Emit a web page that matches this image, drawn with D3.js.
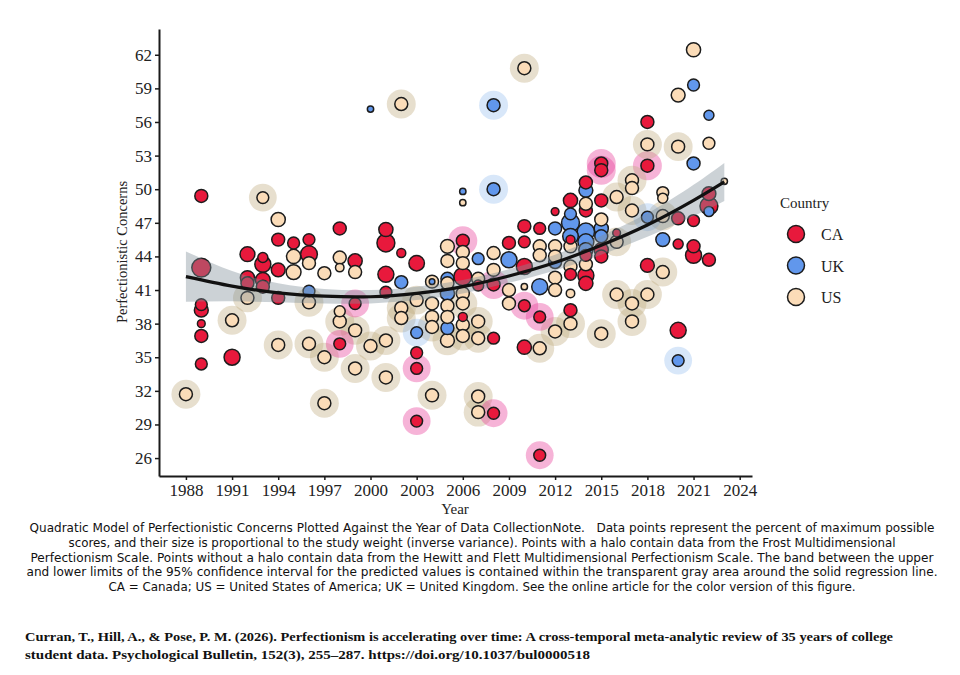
<!DOCTYPE html>
<html>
<head>
<meta charset="utf-8">
<script src="https://cdn.jsdelivr.net/npm/d3@7"></script>
<style>
body { margin: 0; background: #fff; }
</style>
</head>
<body>
<div id="chart"></div>
<script>
// [year, value, weight (inverse variance), frost scale (halo)]
var caPoints = [
  [1989, 43.0, 9, 0], [1989, 49.4, 4.2, 0], [1989, 39.7, 3.5, 0], [1989, 39.2, 4.8, 0],
  [1989, 38.0, 1.5, 0], [1989, 36.9, 4.2, 0], [1989, 34.4, 3.5, 0],
  [1991, 35.0, 6.4, 0],
  [1992, 44.2, 5.5, 0], [1992, 42.1, 5, 0], [1992, 41.6, 4.2, 0],
  [1993, 43.9, 2.5, 0], [1993, 43.3, 6.4, 0], [1993, 41.9, 5.5, 0], [1993, 41.3, 4.2, 0],
  [1994, 45.5, 4.2, 0], [1994, 42.8, 4.8, 0], [1994, 40.3, 4.2, 0],
  [1995, 45.2, 3.5, 0],
  [1996, 45.5, 3.5, 0], [1996, 44.2, 7, 0],
  [1998, 46.5, 4.2, 0], [1998, 36.2, 3.5, 1],
  [1999, 43.6, 5, 0], [1999, 39.8, 3.5, 1],
  [2001, 46.4, 5, 0], [2001, 45.2, 8, 0], [2001, 42.4, 6.4, 0], [2001, 40.8, 3.5, 0],
  [2002, 44.3, 2, 0],
  [2003, 43.4, 6, 0], [2003, 35.4, 3.5, 0], [2003, 34.0, 3.5, 1], [2003, 29.3, 3.5, 1],
  [2006, 45.4, 4.2, 1], [2006, 42.2, 8, 0], [2006, 38.6, 2, 0],
  [2007, 41.4, 3, 0],
  [2008, 41.5, 4.2, 1], [2008, 36.7, 3.5, 0], [2008, 30.0, 3.5, 1],
  [2009, 45.2, 4.2, 0],
  [2010, 46.7, 4.2, 0], [2010, 45.3, 3.5, 0], [2010, 43.1, 6.4, 0], [2010, 39.6, 3.5, 1], [2010, 35.9, 5, 0],
  [2011, 46.5, 3.5, 0], [2011, 38.6, 3.5, 1], [2011, 26.25, 3.5, 1],
  [2012, 48.0, 1.5, 0],
  [2013, 49.0, 5, 0], [2013, 45.5, 2, 0], [2013, 42.4, 3.5, 0], [2013, 39.2, 4.2, 0],
  [2014, 50.6, 4.2, 0], [2014, 48.1, 4.2, 0], [2014, 44.1, 3.5, 0], [2014, 42.3, 6.4, 0], [2014, 41.6, 5, 0],
  [2015, 52.3, 4.2, 1], [2015, 51.7, 4.2, 1], [2015, 49.0, 4.2, 0], [2015, 44.6, 5, 0], [2015, 44.0, 4.2, 0],
  [2016, 46.1, 1.5, 0],
  [2018, 56.0, 4.2, 0], [2018, 52.1, 4.2, 1], [2018, 43.2, 4.8, 0],
  [2020, 47.4, 4.2, 0], [2020, 45.1, 2.5, 0], [2020, 37.4, 6.4, 0],
  [2021, 47.2, 3.5, 0], [2021, 44.9, 4.2, 0], [2021, 44.1, 6.4, 0],
  [2022, 49.6, 4.8, 0], [2022, 48.5, 8, 0], [2022, 43.7, 4.2, 0]
];

var ukPoints = [
  [1996, 40.9, 3.5, 0],
  [2000, 57.15, 1, 0],
  [2002, 41.7, 4.2, 0],
  [2003, 37.2, 3.5, 1],
  [2004, 41.75, 0.8, 0],
  [2005, 42.0, 4.2, 0], [2005, 40.7, 5, 0], [2005, 37.6, 4.2, 0],
  [2006, 49.8, 1, 0],
  [2007, 43.8, 3.5, 0],
  [2008, 57.5, 4.2, 1], [2008, 50.0, 4.2, 1],
  [2009, 43.7, 6.4, 0],
  [2011, 41.3, 6.4, 0],
  [2012, 46.5, 4.2, 0], [2012, 43.5, 4.2, 0],
  [2013, 47.8, 3.5, 0], [2013, 47.0, 8, 0], [2013, 45.8, 6, 0],
  [2014, 49.9, 4.8, 0], [2014, 46.2, 7.5, 0], [2014, 45.3, 6.4, 0], [2014, 44.6, 5, 0],
  [2015, 46.5, 5, 0], [2015, 45.8, 4.2, 0],
  [2018, 47.5, 3.5, 1],
  [2019, 45.5, 4.8, 0],
  [2020, 34.7, 3.5, 1],
  [2021, 59.3, 3.5, 0], [2021, 52.3, 4.2, 0],
  [2022, 56.6, 2.5, 0], [2022, 48.0, 2.5, 0]
];

var usPoints = [
  [1988, 31.7, 4.2, 1],
  [1991, 38.3, 4.2, 1],
  [1992, 40.3, 4.2, 1],
  [1993, 49.25, 3.5, 1],
  [1994, 47.3, 5, 0], [1994, 36.1, 4.2, 1],
  [1995, 44.0, 5, 0], [1995, 42.6, 5.5, 0],
  [1996, 43.4, 4.2, 0], [1996, 39.9, 4.2, 1], [1996, 36.2, 4.2, 1],
  [1997, 42.5, 4.2, 0], [1997, 35.0, 4.2, 1], [1997, 30.9, 4.2, 1],
  [1998, 43.9, 4.2, 0], [1998, 43.0, 1.8, 0], [1998, 39.1, 3, 0], [1998, 38.2, 4.2, 1],
  [1999, 42.6, 4.2, 0], [1999, 37.4, 4.2, 1], [1999, 34.0, 4.2, 1],
  [2000, 36.0, 4.2, 1],
  [2001, 36.5, 4.2, 1], [2001, 33.2, 4.2, 1],
  [2002, 57.6, 4.2, 1], [2002, 39.4, 4.2, 1], [2002, 38.5, 4.2, 1],
  [2003, 40.1, 4.2, 1],
  [2004, 41.75, 4.2, 0], [2004, 39.8, 4.2, 0], [2004, 38.6, 4.2, 0], [2004, 37.7, 4.2, 1], [2004, 31.6, 4.2, 1],
  [2005, 44.9, 4.8, 0], [2005, 43.6, 4.2, 0], [2005, 41.6, 4.2, 0], [2005, 39.6, 4.2, 0], [2005, 38.6, 4.2, 0], [2005, 36.5, 4.8, 1],
  [2006, 48.8, 1, 0], [2006, 44.4, 4.2, 0], [2006, 43.4, 4.2, 0], [2006, 40.7, 4.2, 0], [2006, 39.8, 4.2, 1], [2006, 37.9, 4.2, 0], [2006, 36.9, 4.2, 1],
  [2007, 42.0, 4.2, 0], [2007, 38.2, 4.2, 1], [2007, 36.7, 4.2, 1], [2007, 31.5, 4.2, 1], [2007, 30.1, 4.2, 1],
  [2008, 44.3, 4.2, 0], [2008, 42.8, 4.2, 0],
  [2009, 41.0, 4.2, 0], [2009, 39.8, 4.2, 0],
  [2010, 60.8, 4.2, 1], [2010, 41.3, 1, 0],
  [2011, 44.9, 4.2, 0], [2011, 44.1, 4.2, 0], [2011, 35.8, 4.2, 1],
  [2012, 44.9, 4.2, 0], [2012, 44.0, 4.2, 0], [2012, 42.1, 4.2, 0], [2012, 41.0, 4.2, 0], [2012, 37.3, 4.2, 1],
  [2013, 44.9, 4.2, 0], [2013, 43.1, 4.2, 0], [2013, 40.7, 1.8, 0], [2013, 38.0, 4.2, 1],
  [2014, 48.7, 4.2, 0], [2014, 43.3, 4.2, 0],
  [2015, 47.3, 4.2, 0], [2015, 37.1, 4.2, 1],
  [2016, 49.3, 4.2, 1], [2016, 45.3, 4.2, 1], [2016, 40.6, 4.2, 1],
  [2017, 50.8, 4.2, 1], [2017, 50.1, 4.2, 0], [2017, 48.1, 4.2, 1], [2017, 39.8, 4.2, 1], [2017, 38.2, 4.2, 1],
  [2018, 54.0, 4.2, 1], [2018, 40.6, 4.2, 1],
  [2019, 49.7, 3.5, 0], [2019, 49.2, 2.5, 0], [2019, 47.6, 4.2, 1], [2019, 42.6, 4.2, 1],
  [2020, 58.4, 4.8, 0], [2020, 53.8, 4.2, 1],
  [2021, 62.45, 5, 0],
  [2022, 54.1, 3.5, 0],
  [2023, 50.7, 1, 0]
];

// quadratic fit and 95% CI
var fitYears  = [1988, 1991, 1994, 1997, 2000, 2003, 2006, 2009, 2012, 2015, 2018, 2021, 2023];
var fitValues = [42.2, 41.35, 40.75, 40.45, 40.4, 40.7, 41.3, 42.25, 43.45, 45.0, 46.8, 49.0, 50.65];
var bandLow   = [39.95, 40.0, 39.9, 39.8, 39.8, 40.1, 40.7, 41.65, 42.75, 44.15, 45.75, 47.6, 48.95];
var bandHigh  = [44.45, 42.7, 41.6, 41.1, 41.0, 41.3, 41.9, 42.85, 44.15, 45.85, 47.85, 50.4, 52.35];

var xTicks = [1988, 1991, 1994, 1997, 2000, 2003, 2006, 2009, 2012, 2015, 2018, 2021, 2024];
var yTicks = [26, 29, 32, 35, 38, 41, 44, 47, 50, 53, 56, 59, 62];
var countries = ["CA", "UK", "US"];

var captionLines = [
  "Quadratic Model of Perfectionistic Concerns Plotted Against the Year of Data CollectionNote.   Data points represent the percent of maximum possible",
  "scores, and their size is proportional to the study weight (inverse variance). Points with a halo contain data from the Frost Multidimensional",
  "Perfectionism Scale. Points without a halo contain data from the Hewitt and Flett Multidimensional Perfectionism Scale. The band between the upper",
  "and lower limits of the 95% confidence interval for the predicted values is contained within the transparent gray area around the solid regression line.",
  "CA = Canada; US = United States of America; UK = United Kingdom. See the online article for the color version of this figure."
];
var citationLines = [
  "Curran, T., Hill, A., & Pose, P. M. (2026). Perfectionism is accelerating over time: A cross-temporal meta-analytic review of 35 years of college",
  "student data. Psychological Bulletin, 152(3), 255\u2013287. https://doi.org/10.1037/bul0000518"
];

var width = 960, height = 675;
var serif = "'Liberation Serif', 'Times New Roman', serif";

var fill = d3.scaleOrdinal().domain(countries).range(["#e8193c", "#6197ec", "#fbdcb8"]);
var haloFill = d3.scaleOrdinal().domain(countries).range(["#e8429a", "#7eb0ec", "#c4ae84"]);
var haloOpacity = d3.scaleOrdinal().domain(countries).range([0.4, 0.3, 0.4]);

var x = d3.scaleLinear().domain([1986.25, 2024.8]).range([159, 752]);
var y = d3.scaleLinear().domain([24.4, 64.3]).range([476, 29]);
var r = d3.scaleSqrt().domain([0, 10]).range([0, 10]);

var svg = d3.select("#chart")
    .append("svg")
    .attr("width", width)
    .attr("height", height)
    .style("background", "#fff");

var points = [];
[caPoints, ukPoints, usPoints].forEach(function(list, i) {
  list.forEach(function(p) {
    points.push({year: p[0], value: p[1], weight: p[2], frost: p[3], country: countries[i]});
  });
});
points.sort(function(a, b) { return b.weight - a.weight; });

// halos first
svg.append("g").selectAll("circle")
    .data(points.filter(function(d) { return d.frost; }))
    .enter().append("circle")
    .attr("cx", function(d) { return x(d.year); })
    .attr("cy", function(d) { return y(d.value); })
    .attr("r", function(d) { return r(d.weight) + 8; })
    .attr("fill", function(d) { return haloFill(d.country); })
    .attr("fill-opacity", function(d) { return haloOpacity(d.country); });

svg.append("g").selectAll("circle")
    .data(points)
    .enter().append("circle")
    .attr("cx", function(d) { return x(d.year); })
    .attr("cy", function(d) { return y(d.value); })
    .attr("r", function(d) { return r(d.weight); })
    .attr("fill", function(d) { return fill(d.country); })
    .attr("stroke", "#1c1c1c")
    .attr("stroke-width", 1.5);

// confidence band + regression line
var fit = fitYears.map(function(yr, i) {
  return {year: yr, value: fitValues[i], low: bandLow[i], high: bandHigh[i]};
});

svg.append("path")
    .datum(fit)
    .attr("d", d3.area()
        .x(function(d) { return x(d.year); })
        .y0(function(d) { return y(d.low); })
        .y1(function(d) { return y(d.high); })
        .curve(d3.curveNatural))
    .attr("fill", "#7f8f99")
    .attr("fill-opacity", 0.4);

svg.append("path")
    .datum(fit)
    .attr("d", d3.line()
        .x(function(d) { return x(d.year); })
        .y(function(d) { return y(d.value); })
        .curve(d3.curveNatural))
    .attr("fill", "none")
    .attr("stroke", "#111")
    .attr("stroke-width", 3.2);

// axes
var xAxis = svg.append("g")
    .attr("transform", "translate(0,476)")
    .call(d3.axisBottom(x).tickValues(xTicks).tickFormat(d3.format("d")).tickSize(4).tickSizeOuter(0).tickPadding(4));
var yAxis = svg.append("g")
    .attr("transform", "translate(159,0)")
    .call(d3.axisLeft(y).tickValues(yTicks).tickSize(4).tickSizeOuter(0).tickPadding(3));

[xAxis, yAxis].forEach(function(ax) {
  ax.select(".domain").attr("stroke", "#1a1a1a").attr("stroke-width", 2);
  ax.selectAll(".tick line").attr("stroke", "#1a1a1a").attr("stroke-width", 1.5);
  ax.selectAll(".tick text")
      .attr("fill", "#222")
      .style("font-family", serif)
      .style("font-size", "17px");
});

svg.append("text")
    .attr("x", 455)
    .attr("y", 514)
    .attr("text-anchor", "middle")
    .style("font-family", serif)
    .style("font-size", "15px")
    .attr("fill", "#222")
    .text("Year");

svg.append("text")
    .attr("transform", "translate(127,252) rotate(-90)")
    .attr("text-anchor", "middle")
    .style("font-family", serif)
    .style("font-size", "14.5px")
    .attr("fill", "#222")
    .text("Perfectionistic Concerns");

// legend
var legend = svg.append("g").attr("transform", "translate(780,0)");
legend.append("text")
    .attr("x", 0)
    .attr("y", 208)
    .style("font-family", serif)
    .style("font-size", "15px")
    .attr("fill", "#222")
    .text("Country");

var keys = legend.selectAll(".key")
    .data(countries)
    .enter().append("g")
    .attr("class", "key")
    .attr("transform", function(d, i) { return "translate(16," + (234 + i * 31.5) + ")"; });
keys.append("circle")
    .attr("r", 8.5)
    .attr("fill", function(d) { return fill(d); })
    .attr("stroke", "#1c1c1c")
    .attr("stroke-width", 1.5);
keys.append("text")
    .attr("x", 25)
    .attr("y", 6)
    .style("font-family", serif)
    .style("font-size", "16px")
    .attr("fill", "#222")
    .text(function(d) { return d; });

// caption
var captionWidths = [905, 827, 903, 911, 747];
svg.append("g").selectAll("text")
    .data(captionLines)
    .enter().append("text")
    .attr("x", 482)
    .attr("y", function(d, i) { return 532 + i * 14.8; })
    .attr("text-anchor", "middle")
    .attr("textLength", function(d, i) { return captionWidths[i]; })
    .attr("lengthAdjust", "spacingAndGlyphs")
    .style("white-space", "pre")
    .style("font-family", "'DejaVu Sans Condensed', 'Liberation Sans Narrow', 'DejaVu Sans', sans-serif")
    .style("font-size", "13px")
    .attr("fill", "#111")
    .text(function(d) { return d; });

var citationWidths = [868, 565];
svg.append("g").selectAll("text")
    .data(citationLines)
    .enter().append("text")
    .attr("x", 25)
    .attr("y", function(d, i) { return 641 + i * 18; })
    .attr("textLength", function(d, i) { return citationWidths[i]; })
    .attr("lengthAdjust", "spacingAndGlyphs")
    .style("font-family", serif)
    .style("font-weight", "bold")
    .style("font-size", "13.5px")
    .attr("fill", "#111")
    .text(function(d) { return d; });
</script>
</body>
</html>
